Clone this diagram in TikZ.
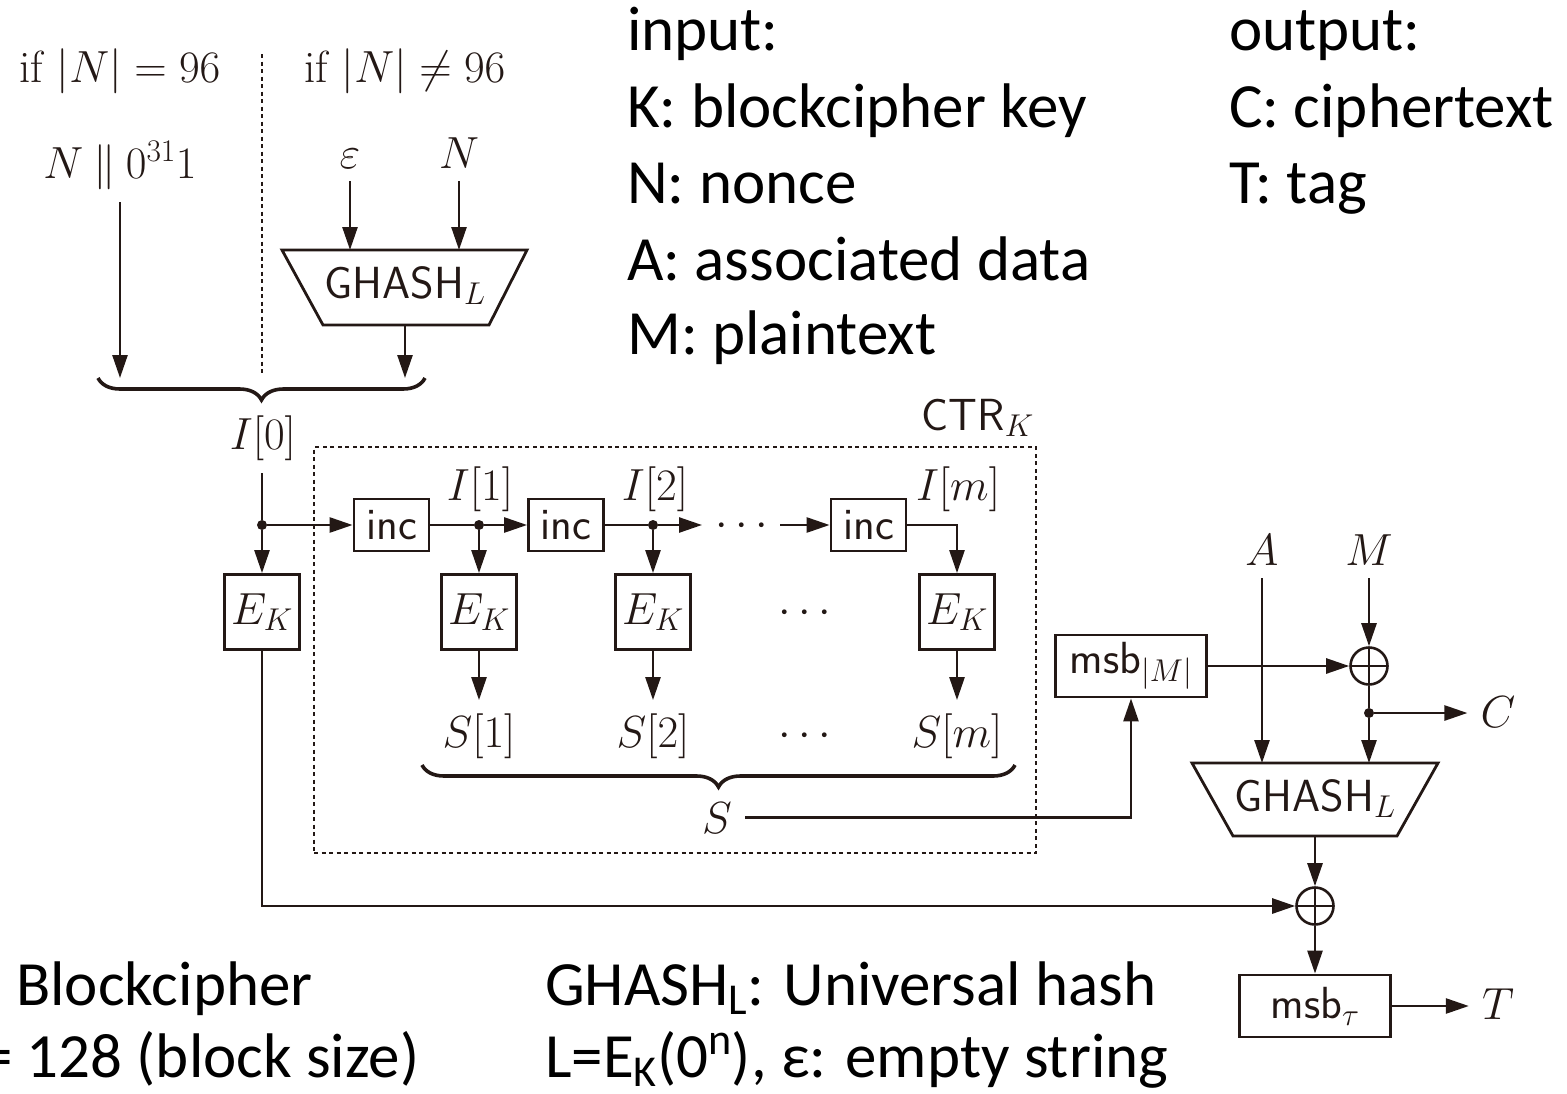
\RequirePackage{fix-cm}
\documentclass[tikz,border=0pt]{standalone}
\usepackage{fontspec}
\newfontfamily\carl{Carlito}
\usetikzlibrary{arrows.meta,decorations.pathreplacing}
\definecolor{dk}{RGB}{35,24,21}
\begin{document}
\begin{tikzpicture}[x=1pt,y=-1pt,
  dg/.style={font=\fontsize{45}{54}\selectfont, text=dk},
  lbl/.style={dg, inner sep=13pt},
  blk/.style={dg, draw=dk, line width=2.8pt, inner sep=0pt},
  ek/.style={blk, minimum width=75pt, minimum height=75pt},
  incb/.style={blk, minimum width=75pt, minimum height=52pt},
  msbb/.style={blk, minimum width=151pt, minimum height=62pt},
  ln/.style={draw=dk, line width=2.6pt},
  arr/.style={ln, -{Triangle[length=23pt,width=15pt]}},
  dotln/.style={draw=dk, line width=1.9pt, dash pattern=on 4pt off 3.5pt},
  brc/.style={draw=dk, line width=3.6pt, decorate, decoration={brace, amplitude=22pt}},
  jdot/.style={circle, fill=dk, inner sep=0pt, minimum size=10pt},
  xor/.style={circle, draw=dk, line width=2.6pt, minimum size=37pt, inner sep=0pt,
    path picture={\draw[dk, line width=2.6pt] (path picture bounding box.north) -- (path picture bounding box.south)
      (path picture bounding box.west) -- (path picture bounding box.east);}},
  big/.style={font={\carl\fontsize{63}{76}\selectfont}, anchor=base west, inner sep=0pt, text=black}
]
\useasboundingbox (0,0) rectangle (1567,1093);

% ---- explanatory text ----
\node[big] (in0) at (627,50) {input:};
\node[big] (in1) at (627,127) {K: blockcipher key};
\node[big] (in2) at (627,203) {N: nonce};
\node[big] (in3) at (627,280) {A: associated data};
\node[big] (in4) at (627,354) {M: plaintext};
\node[big] (out0) at (1229,50) {output:};
\node[big] (out1) at (1229,127) {C: ciphertext};
\node[big] (out2) at (1229,203) {T: tag};
\node[big] (bl1) at (16,1005) {Blockcipher};
\node[big] (bl2) at (-19,1077) {= 128 (block size)};
\node[big] (gl1) at (545,1005) {GHASH\textsubscript{L}: Universal hash};
\node[big] (gl2) at (545,1077) {L=E\textsubscript{K}(0\textsuperscript{n}), ε: empty string};

% ---- nonce processing ----
\node[lbl, anchor=base] (if1) at (120,82) {if $|N| = 96$};
\node[lbl, anchor=base] (if2) at (405,82) {if $|N| \neq 96$};
\coordinate (dva) at (262,54);
\coordinate (dvb) at (262,376);
\draw[dotln] (dva) -- (dvb);
\node[lbl, anchor=base] (n1) at (120,178) {$N \mathbin{\|} 0^{31}1$};
\node[lbl, anchor=base] (eps) at (350,168) {$\varepsilon$};
\node[lbl, anchor=base] (Nn) at (459,168) {$N$};
\coordinate (g1tl) at (282,250);
\coordinate (g1tr) at (527,250);
\coordinate (g1br) at (489,325);
\coordinate (g1bl) at (323,325);
\coordinate (g1b) at (405,325);
\draw[ln, line width=2.8pt] (g1tl) -- (g1tr) -- (g1br) -- (g1bl) -- cycle;
\node[dg, anchor=base] (gh1) at (405,298) {\textsf{GHASH}$_L$};
\coordinate (b1a) at (98,378);
\coordinate (b1b) at (425,378);
\draw[brc] (b1b) -- (b1a);
\draw[arr] (n1.south) -- (n1.south |- b1a);
\draw[arr] (eps.south) -- (eps.south |- g1tl);
\draw[arr] (Nn.south) -- (Nn.south |- g1tl);
\draw[arr] (g1b) -- (g1b |- b1b);

% ---- CTR ----
\node[dotln, minimum width=722pt, minimum height=406pt, inner sep=0pt] (ctr) at (675,650) {};
\node[dg, anchor=base east, inner sep=0pt] (ctrl) at (1034,430) {\textsf{CTR}$_K$};

\node[lbl, anchor=base] (i0) at (263,449) {$I[0]$};
\node[jdot] (j0) at (262,525) {};
\draw[ln] (i0.south -| j0) -- (j0);
\node[ek] (e0) at (262,612) {$E_K$};
\draw[arr] (j0) -- (e0.north);
\node[incb] (inc1) at (391.5,525) {\textsf{inc}};
\draw[arr] (j0) -- (inc1.west);
\node[jdot] (j1) at (479,525) {};
\node[incb] (inc2) at (566,525) {\textsf{inc}};
\draw[arr] (inc1.east) -- (j1) -- (inc2.west);
\node[ek] (e1) at (479,612) {$E_K$};
\draw[arr] (j1) -- (e1.north);
\node[jdot] (j2) at (653,525) {};
\coordinate (d1) at (702,525);
\draw[arr] (inc2.east) -- (j2) -- (d1);
\node[ek] (e2) at (653,612) {$E_K$};
\draw[arr] (j2) -- (e2.north);
\node[dg, anchor=base] (rd) at (742,536) {$\cdots$};
\coordinate (d2) at (780,525);
\node[incb] (inc3) at (868.5,525) {\textsf{inc}};
\draw[arr] (d2) -- (inc3.west);
\node[ek] (e3) at (957,612) {$E_K$};
\draw[arr] (inc3.east) -| (e3.north);
\node[dg, anchor=base] (md) at (805,623) {$\cdots$};

\node[lbl, anchor=base] (i1) at (480,500) {$I[1]$};
\node[lbl, anchor=base] (i2) at (655,500) {$I[2]$};
\node[lbl, anchor=base] (im) at (958,500) {$I[m]$};

\node[lbl, anchor=base] (s1) at (479,747) {$S[1]$};
\node[lbl, anchor=base] (s2) at (653,747) {$S[2]$};
\node[dg, anchor=base] (sd) at (805,746) {$\cdots$};
\node[lbl, anchor=base] (sm) at (957,747) {$S[m]$};
\draw[arr] (e1.south) -- (s1.north);
\draw[arr] (e2.south) -- (s2.north);
\draw[arr] (e3.south) -- (sm.north);
\coordinate (b2a) at (422,765);
\coordinate (b2b) at (1015,765);
\draw[brc] (b2b) -- (b2a);
\node[lbl, anchor=base] (S) at (717,833) {$S$};

% ---- tag / output part ----
\node[lbl, anchor=base] (A) at (1262,565) {$A$};
\node[lbl, anchor=base] (M) at (1369,565) {$M$};
\node[msbb] (msbM) at (1131,666) {\textsf{msb}$_{|M|}$};
\node[xor] (x1) at (1369,666) {};
\node[jdot] (jc) at (1369,713) {};
\node[lbl, anchor=base] (C) at (1498,727) {$C$};
\coordinate (g2tl) at (1192,763);
\coordinate (g2tr) at (1438,763);
\coordinate (g2br) at (1397,836);
\coordinate (g2bl) at (1233,836);
\coordinate (g2b) at (1315,836);
\draw[ln, line width=2.8pt] (g2tl) -- (g2tr) -- (g2br) -- (g2bl) -- cycle;
\node[dg, anchor=base] (gh2) at (1315,811) {\textsf{GHASH}$_L$};
\node[xor] (x2) at (1315,906) {};
\node[msbb] (msbt) at (1315,1006) {\textsf{msb}$_\tau$};
\node[lbl, anchor=base] (T) at (1498,1019) {$T$};

\draw[arr] (A.south) -- (A.south |- g2tl);
\draw[arr] (M.south) -- (x1.north);
\draw[arr] (msbM.east) -- (x1.west);
\draw[ln] (x1.south) -- (jc);
\draw[arr] (jc) -- (jc -| C.west);
\draw[arr] (jc) -- (jc |- g2tl);
\draw[arr] (g2b) -- (x2.north);
\draw[arr] (e0.south) |- (x2.west);
\draw[arr] (x2.south) -- (msbt.north);
\draw[arr] (msbt.east) -- (msbt.east -| T.west);
\draw[arr] (S.east) -| (msbM.south);
\end{tikzpicture}
\end{document}
